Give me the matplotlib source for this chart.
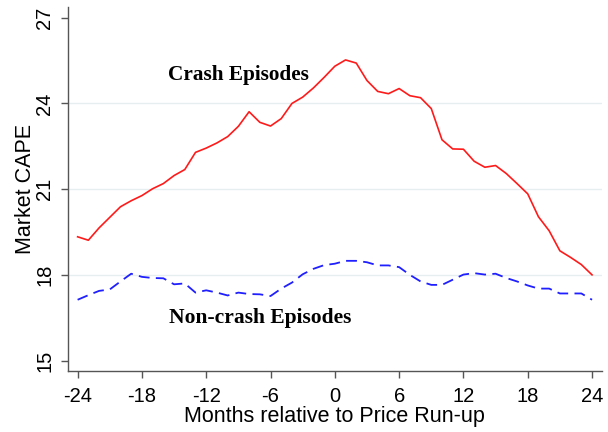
import matplotlib
matplotlib.use("Agg")
import matplotlib.pyplot as plt
import numpy as np

# months relative to the price run-up
months = np.arange(-24, 25)

# market CAPE, crash episodes
crash = [19.34, 19.22, 19.65, 20.02, 20.39, 20.60, 20.78, 21.02, 21.20, 21.48,
         21.69, 22.29, 22.44, 22.62, 22.84, 23.20, 23.71, 23.34, 23.21, 23.47,
         24.00, 24.22, 24.54, 24.91, 25.30, 25.52, 25.41, 24.80, 24.42, 24.34,
         24.52, 24.27, 24.20, 23.82, 22.73, 22.41, 22.40, 21.98, 21.77, 21.83,
         21.55, 21.20, 20.84, 20.04, 19.55, 18.85, 18.62, 18.37, 18.01]

# market CAPE, non-crash episodes
noncrash = [17.14, 17.30, 17.45, 17.50, 17.78, 18.05, 17.94, 17.90, 17.89, 17.68,
            17.71, 17.39, 17.47, 17.39, 17.29, 17.39, 17.34, 17.33, 17.27, 17.53,
            17.74, 18.03, 18.22, 18.35, 18.40, 18.50, 18.50, 18.45, 18.34, 18.34,
            18.28, 18.01, 17.78, 17.66, 17.66, 17.84, 18.02, 18.07, 18.02, 18.05,
            17.90, 17.78, 17.64, 17.53, 17.53, 17.36, 17.36, 17.36, 17.14]

xticks = [-24, -18, -12, -6, 0, 6, 12, 18, 24]
yticks = [15, 18, 21, 24, 27]

plt.rcParams['font.family'] = ['Liberation Sans', 'DejaVu Sans']

fig = plt.figure(figsize=(6.08, 4.32), dpi=100)
ax = fig.add_axes([0.1118, 0.1405, 0.9896 - 0.1118, 0.9845 - 0.1405])

# light grid at inner y ticks only
for yv in yticks[1:-1]:
    ax.axhline(yv, color='#e6eef0', linewidth=1.0, zorder=0)

ax.plot(months, crash, color='#ff1a1a', linewidth=1.2)
ax.plot(months, noncrash, color='#1f1fff', linewidth=1.3, linestyle=(0, (6, 3.5)))

ax.text(-9, 25.0, 'Crash Episodes', family=['Liberation Serif'], fontweight='bold',
        fontsize=15.3, ha='center', va='center')
ax.text(-7, 16.5, 'Non-crash Episodes', family=['Liberation Serif'], fontweight='bold',
        fontsize=15.5, ha='center', va='center')

ax.set_xlim(-24.9, 24.9)
ax.set_ylim(14.64, 27.38)
ax.set_xticks(xticks)
ax.set_xticklabels([str(v) for v in xticks])
ax.set_yticks(yticks)
ax.set_yticklabels([str(v) for v in yticks], rotation=90, va='center')

for side in ['top', 'right']:
    ax.spines[side].set_visible(False)
for side in ['left', 'bottom']:
    ax.spines[side].set_color('#555555')
    ax.spines[side].set_linewidth(1.0)

ax.tick_params(axis='both', colors='#555555', labelcolor='black', length=5,
               width=1.0, labelsize=14.5)
ax.tick_params(axis='x', pad=6)
ax.tick_params(axis='y', pad=5)

ax.set_xlabel('Months relative to Price Run-up', fontsize=15.5, labelpad=0)
ax.set_ylabel('Market CAPE', fontsize=15.5, labelpad=-1)

fig.savefig('out.png', dpi=100)
